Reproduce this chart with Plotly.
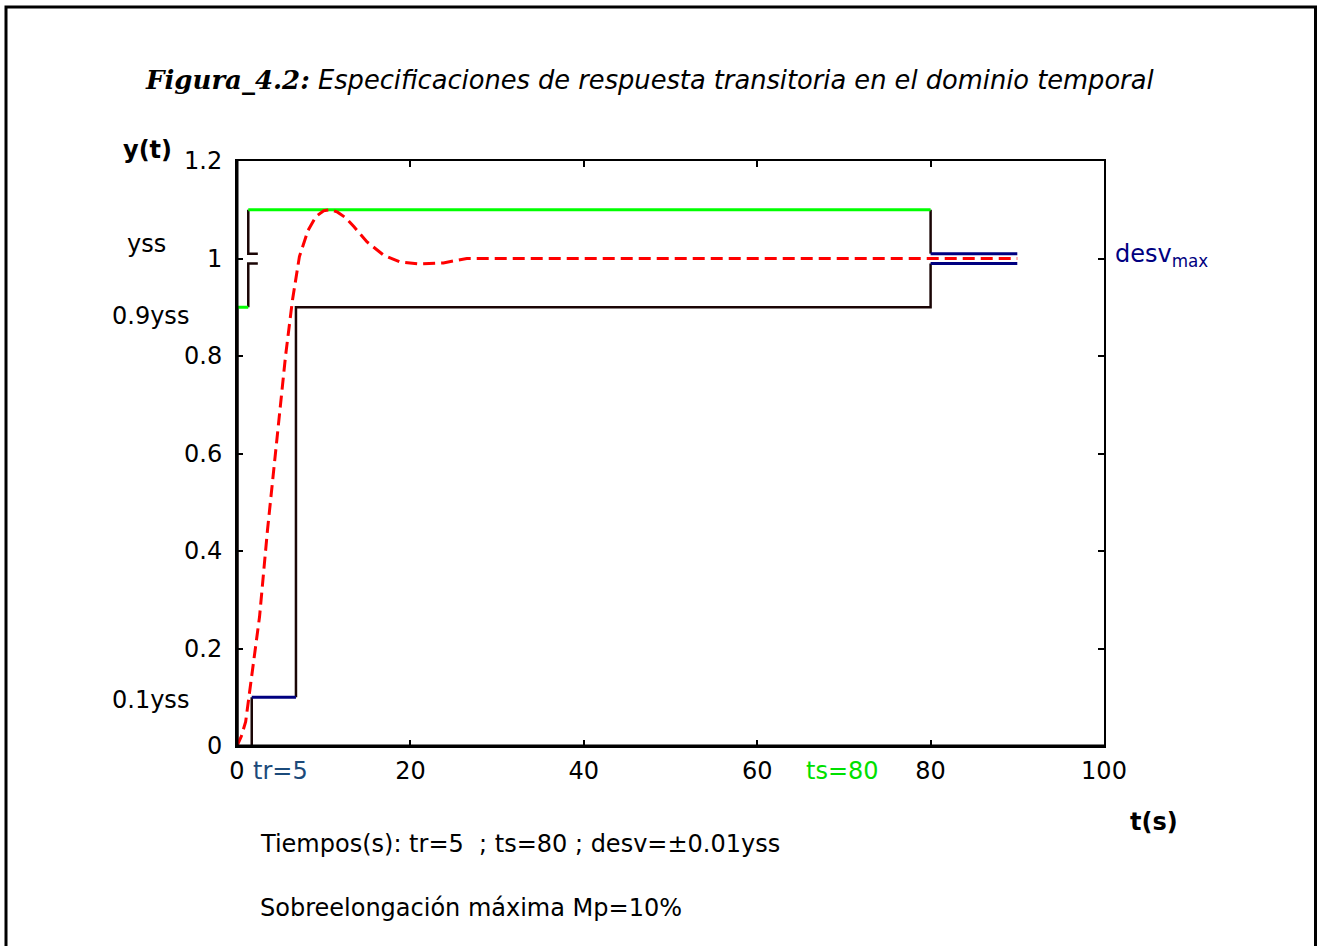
import plotly.graph_objects as go

# ---- data ----
resp_t = [0, 0.5, 1.0, 1.6, 2.6, 3.5, 4.4, 5.6, 6.4, 7.2, 8.2, 9.1, 10.0, 10.8,
          11.6, 12.5, 13.5, 15.0, 16.9, 18.8, 21.0, 23.8, 26.5, 90]
resp_y = [0, 0.02, 0.05, 0.13, 0.265, 0.44, 0.6, 0.8, 0.915, 1.004, 1.058, 1.086,
          1.098, 1.1, 1.095, 1.084, 1.065, 1.034, 1.007, 0.993, 0.989, 0.991, 1.0, 1.0]

# overshoot limit (green)
mp_t = [1.3, 80]
mp_y = [1.1, 1.1]
# 0.9 yss marker (green, short)
low_g_t = [0, 1.3]
low_g_y = [0.9, 0.9]

# black bracket near start
brk_up_t = [1.3, 1.3, 2.4]
brk_up_y = [1.1, 1.01, 1.01]
brk_lo_t = [2.4, 1.3, 1.3]
brk_lo_y = [0.99, 0.99, 0.9]
left_t = [0, 0]
left_y = [0, 0.9]

# settling band at ts
ts_up_t = [80, 80]
ts_up_y = [1.1, 1.01]
band_up_t = [80, 90]
band_up_y = [1.01, 1.01]
band_lo_t = [80, 90]
band_lo_y = [0.99, 0.99]
ts_lo_t = [80, 80, 6.8, 6.8]
ts_lo_y = [0.99, 0.9, 0.9, 0.1]
tr_t = [1.7, 6.8]
tr_y = [0.1, 0.1]
tr_v_t = [1.7, 1.7]
tr_v_y = [0.1, 0]

x_ticks = [0, 20, 40, 60, 80, 100]
x_ticklabels = ["0", "20", "40", "60", "80", "100"]
y_ticks = [0, 0.2, 0.4, 0.6, 0.8, 1.0, 1.2]
y_ticklabels = ["0", "0.2", "0.4", "0.6", "0.8", "1", "1.2"]

BLACK = "#1a0505"
NAVY = "#000080"
GREEN = "#00ff00"
RED = "#ff0000"

fig = go.Figure()

def line(x, y, color, width=2.5, dash=None):
    fig.add_trace(go.Scatter(x=x, y=y, mode="lines", showlegend=False,
                             hoverinfo="skip", cliponaxis=False,
                             line=dict(color=color, width=width, dash=dash)))

line(left_t, left_y, BLACK, 3)
line(brk_up_t, brk_up_y, BLACK)
line(brk_lo_t, brk_lo_y, BLACK)
line(ts_up_t, ts_up_y, BLACK)
line(ts_lo_t, ts_lo_y, BLACK)
line(tr_v_t, tr_v_y, BLACK)
line(band_up_t, band_up_y, NAVY, 3)
line(band_lo_t, band_lo_y, NAVY, 3)
line(tr_t, tr_y, NAVY, 3)
line(mp_t, mp_y, GREEN, 3)
line(low_g_t, low_g_y, GREEN, 3)
line(resp_t, resp_y, RED, 3, "12px,6px")

W, H = 1317, 946
L, R, T, B = 237, 1104, 161, 746
pw, ph = R - L, B - T

def px(x):
    return (x - L) / pw

def py(y):
    return (B - y) / ph

FONT = "DejaVu Sans, Liberation Sans, Arial, sans-serif"
anns = []

def ann(x, y, text, size=24, color="black", xanchor="center", bold=False, family=FONT):
    if bold:
        text = "<b>" + text + "</b>"
    anns.append(dict(x=px(x), y=py(y), xref="paper", yref="paper", text=text,
                     showarrow=False, xanchor=xanchor, yanchor="middle",
                     font=dict(family=family, size=size, color=color)))

ann(143, 80,
    "<span style='font-family:DejaVu Serif, Liberation Serif, serif; font-size:26px'><b><i>Figura_4.2:</i></b></span>"
    " <i>Especificaciones de respuesta transitoria en el dominio temporal</i>",
    size=25.7, xanchor="left")
ann(147, 150, "y(t)", size=24, bold=True)
ann(146, 244, "yss")
ann(150, 316, "0.9yss")
ann(150, 700, "0.1yss")
ann(280, 771, "tr=5", color="#1b4a7a")
ann(842, 771, "ts=80", color="#00e000")
ann(1154, 822, "t(s)", bold=True)
ann(1113, 255, "desv<sub>max</sub>", color=NAVY, xanchor="left")
ann(258, 844, "Tiempos(s): tr=5&nbsp;&nbsp;; ts=80 ; desv=±0.01yss", xanchor="left")
ann(258, 908, "Sobreelongación máxima Mp=10%", xanchor="left")

shapes = [
    # outer frame
    dict(type="rect", xref="paper", yref="paper", x0=px(6), x1=px(1315.5),
         y0=py(960), y1=py(7), line=dict(color="black", width=3)),
    # thicker left and bottom axes
    dict(type="line", xref="paper", yref="paper", x0=0, x1=0, y0=0, y1=1,
         line=dict(color="black", width=3)),
    dict(type="line", xref="paper", yref="paper", x0=0, x1=1, y0=0, y1=0,
         line=dict(color="black", width=3)),
]

axis_common = dict(showgrid=False, zeroline=False, showline=True, linecolor="black",
                   linewidth=2, mirror="ticks", ticks="inside", ticklen=6,
                   tickwidth=2, tickcolor="black",
                   tickfont=dict(family=FONT, size=24, color="black"))

fig.update_layout(
    width=W, height=H,
    margin=dict(l=L, r=W - R, t=T, b=H - B, pad=0),
    paper_bgcolor="white", plot_bgcolor="white",
    xaxis=dict(range=[0, 100], tickvals=x_ticks, ticktext=x_ticklabels,
               ticklabelstandoff=2, **axis_common),
    yaxis=dict(range=[0, 1.2], tickvals=y_ticks, ticktext=y_ticklabels,
               ticklabelstandoff=8, **axis_common),
    annotations=anns, shapes=shapes,
)

fig.write_html("out.html")
